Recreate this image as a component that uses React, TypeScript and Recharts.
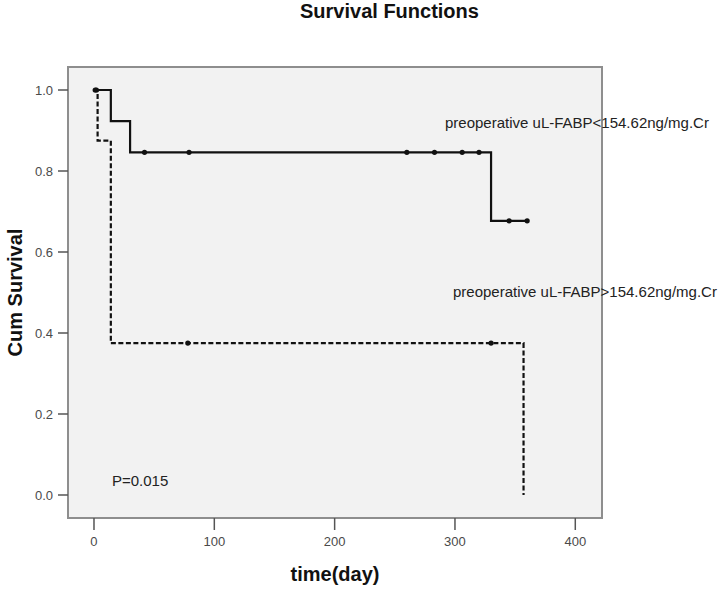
import { ComposedChart, Line, Scatter, XAxis, YAxis, ReferenceArea } from "recharts";

// group 1: preoperative uL-FABP < 154.62
const lowTime = [0, 14, 30, 330, 360];
const lowSurv = [1, 0.923, 0.846, 0.677, 0.677];
const lowCensorTime = [1, 42, 79, 260, 283, 306, 320, 345, 360];
const lowCensorSurv = [1, 0.846, 0.846, 0.846, 0.846, 0.846, 0.846, 0.677, 0.677];

// group 2: preoperative uL-FABP > 154.62
const highTime = [0, 3, 14, 357];
const highSurv = [1, 0.875, 0.375, 0];
const highCensorTime = [2, 78, 330];
const highCensorSurv = [1, 0.375, 0.375];

const xTicks = [0, 100, 200, 300, 400];
const yTicks = [0, 0.2, 0.4, 0.6, 0.8, 1.0];
const xDomain = [-21.6, 422.2];
const yDomain = [-0.0568, 1.0568];

const zip = (t: number[], s: number[]) => t.map((v, i) => ({ t: v, s: s[i] }));

const lowData = zip(lowTime, lowSurv);
const highData = zip(highTime, highSurv);
const lowCensor = zip(lowCensorTime, lowCensorSurv);
const highCensor = zip(highCensorTime, highCensorSurv);

const Dot = (p: any) => <circle cx={p.cx} cy={p.cy} r={2.6} fill="#111" />;

const tickStyle = { fontSize: 13, fill: "#4a4a4a" };
const note = { position: "absolute" as const, fontSize: 15, lineHeight: "15px", color: "#222", whiteSpace: "nowrap" as const };

export default function App() {
  return (
    <div
      style={{
        position: "absolute",
        left: 0,
        top: 0,
        width: 725,
        height: 589,
        background: "#fff",
        fontFamily: "'Liberation Sans', Arial, sans-serif",
      }}
    >
      <div style={{ position: "absolute", left: 300, top: 1, fontSize: 20, lineHeight: "20px", fontWeight: "bold", color: "#111" }}>
        Survival Functions
      </div>
      <ComposedChart width={725} height={589} margin={{ top: 67, right: 123, bottom: 0, left: 0 }}>
        <XAxis
          type="number"
          dataKey="t"
          domain={xDomain}
          ticks={xTicks}
          allowDataOverflow
          axisLine={false}
          tickSize={12}
          tickMargin={7}
          height={71}
          tickLine={{ stroke: "#555", strokeWidth: 1.5 }}
          tick={tickStyle}
          label={{ value: "time(day)", position: "insideBottom", offset: 8, fontSize: 20, fontWeight: "bold", fill: "#111" }}
        />
        <YAxis
          type="number"
          dataKey="s"
          domain={yDomain}
          ticks={yTicks}
          allowDataOverflow
          axisLine={false}
          width={68}
          tickSize={10}
          tickMargin={5}
          tickLine={{ stroke: "#555", strokeWidth: 1.5 }}
          tick={tickStyle}
          tickFormatter={(v: number) => v.toFixed(1)}
          label={{
            value: "Cum Survival",
            angle: -90,
            position: "insideLeft",
            offset: 15,
            fontSize: 20,
            fontWeight: "bold",
            fill: "#111",
            style: { textAnchor: "middle" },
          }}
        />
        <ReferenceArea
          x1={xDomain[0]}
          x2={xDomain[1]}
          y1={yDomain[0]}
          y2={yDomain[1]}
          fill="#f2f2f2"
          fillOpacity={1}
          stroke="#8e8e8e"
          strokeWidth={2}
        />
        <Line data={highData} dataKey="s" type="stepAfter" stroke="#111" strokeWidth={2.2} strokeDasharray="5 2.5" dot={false} isAnimationActive={false} />
        <Line data={lowData} dataKey="s" type="stepAfter" stroke="#111" strokeWidth={2.2} dot={false} isAnimationActive={false} />
        <Scatter data={highCensor} dataKey="s" shape={Dot} isAnimationActive={false} />
        <Scatter data={lowCensor} dataKey="s" shape={Dot} isAnimationActive={false} />
      </ComposedChart>
      <div style={{ ...note, left: 445, top: 115 }}>preoperative uL-FABP&lt;154.62ng/mg.Cr</div>
      <div style={{ ...note, left: 453, top: 284 }}>preoperative uL-FABP&gt;154.62ng/mg.Cr</div>
      <div style={{ ...note, left: 112, top: 473 }}>P=0.015</div>
    </div>
  );
}
